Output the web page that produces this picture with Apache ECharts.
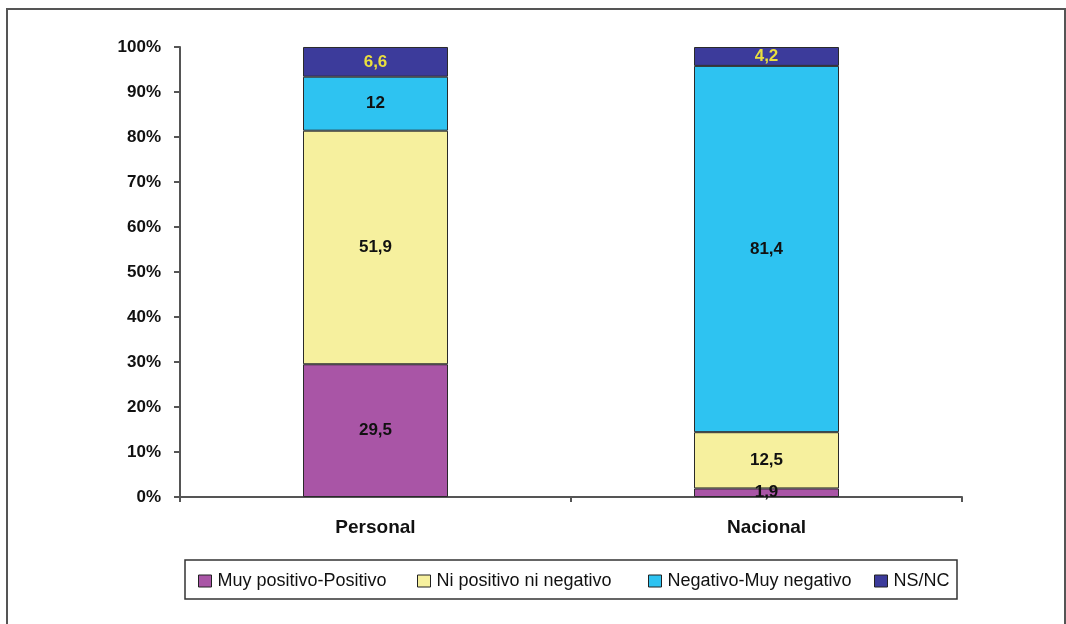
<!DOCTYPE html>
<html>
<head>
<meta charset="utf-8">
<script src="https://cdn.jsdelivr.net/npm/echarts@6/dist/echarts.min.js"></script>
<style>
html,body{margin:0;padding:0;background:#fff;}
#c{width:1066px;height:624px;}
</style>
</head>
<body>
<div id="c"></div>
<script>
const categories = ['Personal', 'Nacional'];
const seriesNames = ['Muy positivo-Positivo', 'Ni positivo ni negativo', 'Negativo-Muy negativo', 'NS/NC'];
const muyPositivo = [29.5, 1.9];
const niPositivo = [51.9, 12.5];
const negativo = [12, 81.4];
const nsnc = [6.6, 4.2];
const seriesValues = [muyPositivo, niPositivo, negativo, nsnc];
const colors = ['#A955A6', '#F6F09E', '#2EC3F1', '#3C3B9B'];
const labelColors = ['#111', '#111', '#111', '#EADF3E'];
const legendLeft = [198, 417, 648, 874];

const FONT = "'Liberation Sans', Arial, sans-serif";
const chart = echarts.init(document.getElementById('c'));

const series = seriesNames.map((name, i) => ({
  name: name,
  type: 'bar',
  stack: 'total',
  barWidth: 145,
  data: seriesValues[i],
  itemStyle: { color: colors[i], borderColor: '#2a2a2a', borderWidth: 1 },
  label: {
    show: true,
    position: 'inside',
    color: labelColors[i],
    fontFamily: FONT,
    fontWeight: 'bold',
    fontSize: 17,
    formatter: p => String(p.value).replace('.', ',')
  },
  emphasis: { disabled: true }
}));

const legends = seriesNames.map((name, i) => ({
  data: [name],
  left: legendLeft[i],
  top: 572,
  padding: 0,
  itemWidth: 13,
  itemHeight: 12,
  itemGap: 0,
  icon: 'rect',
  selectedMode: false,
  textStyle: { fontFamily: FONT, fontSize: 18, color: '#111', padding: [0, 0, 0, 1] },
  itemStyle: { borderColor: '#222', borderWidth: 1 }
}));

chart.setOption({
  animation: false,
  backgroundColor: '#fff',
  grid: { left: 180, right: 104, top: 47, bottom: 127, containLabel: false },
  xAxis: {
    type: 'category',
    data: categories,
    axisLine: { lineStyle: { color: '#555', width: 2 } },
    axisTick: { show: true, length: 5, alignWithLabel: false, lineStyle: { color: '#555', width: 2 } },
    axisLabel: { margin: 21, fontFamily: FONT, fontWeight: 'bold', fontSize: 19, color: '#111' }
  },
  yAxis: {
    type: 'value',
    min: 0,
    max: 100,
    interval: 10,
    axisLine: { show: true, lineStyle: { color: '#555', width: 2 } },
    axisTick: { show: true, length: 6, lineStyle: { color: '#555', width: 2 } },
    splitLine: { show: false },
    axisLabel: { margin: 19, formatter: '{value}%', fontFamily: FONT, fontWeight: 'bold', fontSize: 17, color: '#111' }
  },
  legend: legends,
  series: series,
  graphic: [
    {
      type: 'polyline',
      shape: { points: [[7, 624], [7, 9], [1065, 9], [1065, 624]] },
      style: { stroke: '#555', lineWidth: 2, fill: null },
      silent: true
    },
    {
      type: 'rect',
      shape: { x: 185, y: 560, width: 772, height: 39 },
      style: { stroke: '#333', lineWidth: 1.5, fill: null },
      silent: true,
      z: -1
    }
  ]
});
</script>
</body>
</html>
